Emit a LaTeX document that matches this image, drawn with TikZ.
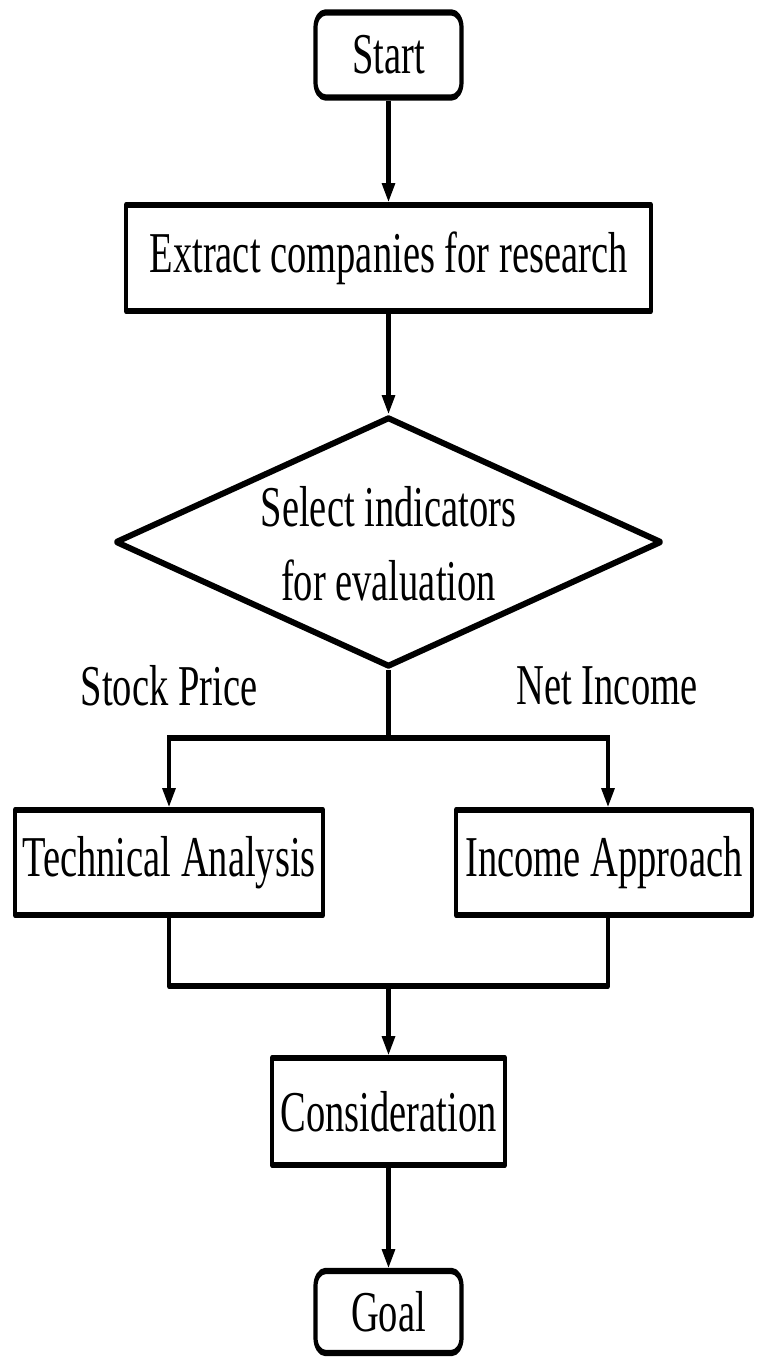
\documentclass[tikz,border=0pt]{standalone}
\usepackage{fontspec}
\setmainfont{Liberation Serif}
\usetikzlibrary{arrows.meta,shapes.geometric}
\begin{document}
\begin{tikzpicture}[
  x=1pt, y=1pt,
  txt/.style={font=\fontsize{38.5}{49}\selectfont},
  box/.style={txt, draw, line width=4.2pt, line join=round, inner sep=0pt, align=center},
  termbox/.style={box, rounded corners=10pt},
  lbl/.style={txt, inner sep=0pt, align=center},
  conn/.style={line width=4.2pt, line join=round},
  arr/.style={conn, -{Triangle[width=13pt,length=12.5pt]}},
]
\useasboundingbox (0,0) rectangle (756,1357);
\fill[white] (0,0) rectangle (756,1357);
% the chart is laid out in a flattened frame and stretched vertically by 1.5
\begin{scope}[transform canvas={yscale=1.5}, yshift=904.667pt, y=-0.666667pt]
  \node[termbox, minimum width=146pt, minimum height=56.7pt] (start) at (388.5,55) {Start};
  \node[box, minimum width=525pt, minimum height=70.7pt] (extract) at (388.5,258) {Extract companies for research};
  \node[draw, diamond, line width=4.2pt, line join=round, inner sep=0pt,
        minimum width=546pt, minimum height=166.7pt] (select) at (388.5,542) {};
  \node[lbl] (selecttext) at (388.5,544) {Select indicators\\for evaluation};

  \node[lbl] (stock) at (169,686) {Stock Price};
  \node[lbl] (netinc) at (607,686) {Net Income};

  \node[box, minimum width=308pt, minimum height=70pt] (tech) at (169,862.5) {Technical Analysis};
  \node[box, minimum width=296pt, minimum height=70pt] (income) at (604,862.5) {Income Approach};

  \node[box, minimum width=233pt, minimum height=71.3pt] (cons) at (388.5,1111.5) {Consideration};
  \node[termbox, minimum width=146pt, minimum height=54.7pt] (goal) at (388.5,1312) {Goal};

  \coordinate (split) at (388.5,738);
  \coordinate (splitL) at (169,738);
  \coordinate (splitR) at (608,738);
  \coordinate (merge) at (388.5,986);
  \coordinate (mergeL) at (169,986);
  \coordinate (mergeR) at (608,986);

  \draw[arr] (start.south) -- (extract.north);
  \draw[arr] (extract.south) -- (select.north);
  \draw[conn] (select.south) -- (split);
  \draw[conn, line cap=rect] (splitL) -- (splitR);
  \draw[arr] (splitL) -- (splitL |- tech.north);
  \draw[arr] (splitR) -- (splitR |- income.north);
  \draw[conn] (tech.south) -- (mergeL) -- (mergeR) -- (mergeR |- income.south);
  \draw[arr] (merge) -- (cons.north);
  \draw[arr] (cons.south) -- (goal.north);
\end{scope}
\end{tikzpicture}
\end{document}
